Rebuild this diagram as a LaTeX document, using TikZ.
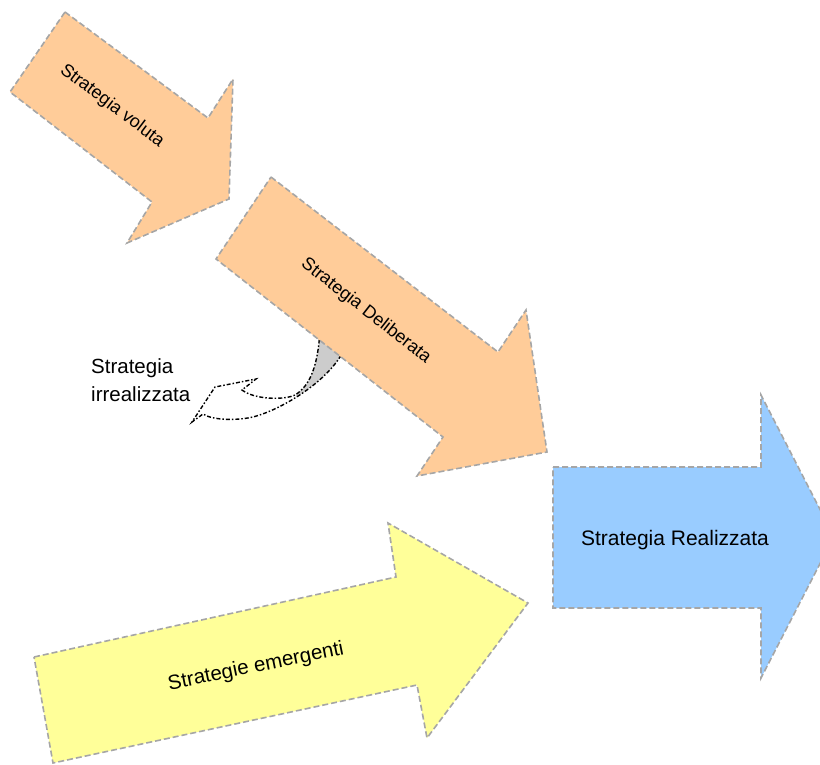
\documentclass[tikz,border=0pt]{standalone}
\usepackage{fontspec}
\setmainfont{Liberation Sans}
\begin{document}
\begin{tikzpicture}[x=1pt,y=-1pt,
  bigarrow/.style={draw=black!35, line width=1.6pt, dash pattern=on 6pt off 3pt, line join=miter},
  curvedge/.style={draw=black, line width=1.4pt, dash pattern=on 4pt off 2pt on 1.5pt off 2pt},
  rotlbl/.style={font=\fontsize{18}{22}\selectfont, inner sep=0pt},
  flatlbl/.style={font=\fontsize{21}{28}\selectfont, inner sep=0pt},
]
\definecolor{peach}{RGB}{255,204,153}
\definecolor{skyb}{RGB}{153,204,255}
\definecolor{paleyel}{RGB}{255,255,153}
\definecolor{foldgray}{RGB}{204,204,204}
\useasboundingbox (0,0) rectangle (820,765);
\clip (0,0) rectangle (820,765);

% curved arrow (Strategia irrealizzata), behind the Deliberata arrow
\def\curvepath{(320,330) .. controls (318,366) and (310,386) .. (295,395)
  .. controls (285,400) and (255,400) .. (242,390) -- (256,379) -- (215,387)
  -- (192,422) -- (203,414) .. controls (212,420) and (235,421) .. (253,417)
  .. controls (280,410) and (322,385) .. (340,357) -- (348,345) -- cycle}
\fill[white] \curvepath;
\begin{scope}
  \clip \curvepath;
  \fill[foldgray] (296,300) rectangle (400,450);
\end{scope}
\path[curvedge] \curvepath;

% Strategia voluta
\path[bigarrow, fill=peach] (65,12) -- (208,118) -- (233,79) -- (229,199)
  -- (127,243) -- (152,202) -- (10,92) -- cycle;
\node[rotlbl, rotate=-37] (voluta) at (112,106) {Strategia voluta};

% Strategia Deliberata
\path[bigarrow, fill=peach] (271,177) -- (498,352) -- (526,310) -- (547,452)
  -- (417,476) -- (443,437) -- (216,259) -- cycle;
\node[rotlbl, rotate=-38] (deliberata) at (366,311) {Strategia Deliberata};

% Strategia Realizzata
\path[bigarrow, fill=skyb] (553,467) -- (761,467) -- (761,395) -- (834,536.5)
  -- (761,678) -- (761,608) -- (553,608) -- cycle;
\node[flatlbl] (realizzata) at (675,540) {Strategia Realizzata};

% Strategie emergenti
\path[bigarrow, fill=paleyel] (34,657) -- (396,577) -- (388,523) -- (528,603)
  -- (427,738) -- (417,685) -- (53,763) -- cycle;
\node[flatlbl, font=\fontsize{20.5}{28}\selectfont, rotate=11.5] (emergenti) at (256,667) {Strategie emergenti};

% label of the curved arrow
\node[flatlbl, font=\fontsize{20.5}{28}\selectfont, align=left, anchor=north west] (irreal) at (91,358) {Strategia\\irrealizzata};
\end{tikzpicture}
\end{document}
